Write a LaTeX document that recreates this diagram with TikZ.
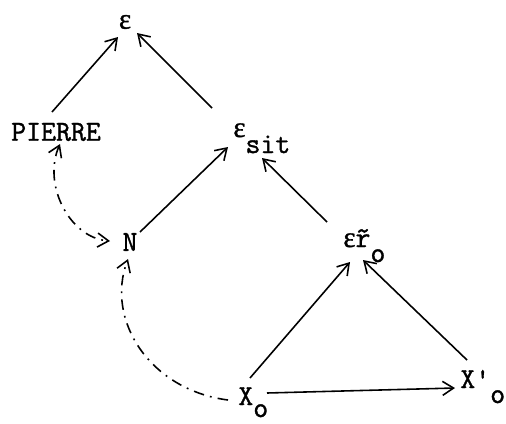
\documentclass[tikz,border=0pt]{standalone}
\usepackage{fontspec}
\newfontfamily\typer{Latin Modern Mono}[FakeBold=1.2]
\newfontfamily\greek{Liberation Serif}[FakeBold=1.2]
\usetikzlibrary{calc,arrows.meta}

\begin{document}
\begin{tikzpicture}[x=0.02cm,y=-0.02cm,
  every node/.style={font=\typer\fontsize{16.5}{18}\selectfont,inner sep=0pt},
  >={Straight Barb[length=2.2mm,width=2.8mm]},
  arr/.style={->,line width=0.9pt},
  dd/.style={line width=0.9pt,dash pattern=on 6pt off 3.5pt on 1pt off 3.5pt}]
\useasboundingbox (0,0) rectangle (506,423);
\node (eps) at (125,22) {{\greek ε}};
\node (pierre) at (56,132) {PIERRE};
\node[anchor=base west] (sit) at (233,137) {{\greek ε}\raisebox{-0.32cm}{sit}};
\node (n) at (130,242) {N};
\node[anchor=base west] (er) at (343,247) {{\greek ε}\~{r}\raisebox{-0.3cm}{o}};
\node[anchor=base west] (xo) at (238,405) {X\raisebox{-0.24cm}{o}};
\node[anchor=base west] (xp) at (460,388) {X'\raisebox{-0.3cm}{o}};
% tree
\draw[arr] ($(pierre)+(-4,-20)$) -- ($(eps)+(-7,15)$);
\draw[arr] ($(sit.base west)+(-21,-29)$) -- ($(eps)+(12,11)$);
\draw[arr] ($(n)+(10,-10)$) -- ($(sit.base west)+(-5,10)$);
\draw[arr] ($(er.base west)+(-16,-25)$) -- ($(sit.base west)+(29,21)$);
\draw[arr] ($(xo.base west)+(12,-27)$) -- ($(er.base west)+(7,15)$);
\draw[arr] ($(xp.base west)+(7,-28)$) -- ($(er.base west)+(20,13)$);
\draw[arr] ($(xo.base west)+(29,-12)$) -- ($(xp.base west)+(-5,0)$);
% dash-dot links
\draw[dd,<->] ($(pierre)+(4,12)$) .. controls (42,185) and (70,238) .. ($(n)+(-20,-1)$);
\draw[dd,->] ($(xo.base west)+(-10,-5)$) .. controls (150,390) and (105,320) .. ($(n)+(-2,17)$);
\end{tikzpicture}
\end{document}
